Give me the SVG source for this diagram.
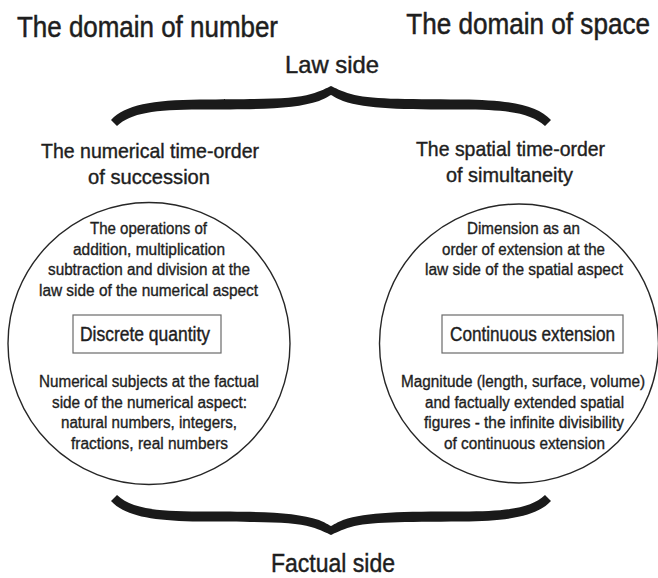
<svg xmlns="http://www.w3.org/2000/svg" xmlns:xlink="http://www.w3.org/1999/xlink" width="658" height="578" viewBox="0 0 658 578">
<style>
text{font-family:"Liberation Sans",Arial,sans-serif;fill:#1e1e1e;stroke:#1e1e1e;stroke-width:0.35;}
.title{font-size:29px;stroke-width:0.5;}
.side{font-size:24px;stroke-width:0.45;}
.fact{font-size:26px;stroke-width:0.45;}
.sub{font-size:21px;stroke-width:0.4;}
.body{font-size:16px;}
.key{font-size:19.5px;stroke-width:0.4;}
.circ{fill:none;stroke:#262626;stroke-width:1.4;}
.box{fill:#fff;stroke:#6a6a6a;stroke-width:1.2;}
.brace{fill:#1a1a1a;stroke:none;}
</style>
<defs>
<path id="brace" class="brace" d="M111,120 C125,105 152,100 200,99.5 C260,99 293,99.5 311,94 C321,91 327,88 331,86 C335,88 341,91 351,94 C369,99.5 402,99 462,99.5 C510,100 537,105 551,120 L545,126 C531,113 508,109.5 462,109.5 C402,109.5 367,109 343,101 C337,98.5 334,96.5 331,95 C328,96.5 325,98.5 319,101 C295,109 260,109.5 200,109.5 C154,109.5 131,113 117,126 Z"/>
</defs>
<rect width="658" height="578" fill="#fff"/>

<g id="labels">
<text class="title" x="17" y="37" textLength="261" lengthAdjust="spacingAndGlyphs">The domain of number</text>
<text class="title" transform="translate(650,33.5) scale(0.9,1)" x="0" y="0" text-anchor="end">The domain of space</text>
<text class="side" x="285" y="73" textLength="94" lengthAdjust="spacingAndGlyphs">Law side</text>
<text class="fact" x="271" y="572" textLength="124" lengthAdjust="spacingAndGlyphs">Factual side</text>
<text class="sub" x="41" y="158" textLength="218" lengthAdjust="spacingAndGlyphs">The numerical time-order</text>
<text class="sub" x="88" y="184" textLength="122" lengthAdjust="spacingAndGlyphs">of succession</text>
<text class="sub" x="416" y="156" textLength="189" lengthAdjust="spacingAndGlyphs">The spatial time-order</text>
<text class="sub" x="446" y="182" textLength="127" lengthAdjust="spacingAndGlyphs">of simultaneity</text>
</g>

<g id="connectors">
<use xlink:href="#brace" href="#brace"/>
<use xlink:href="#brace" href="#brace" transform="translate(0,621) scale(1,-1)"/>
</g>

<g id="node-number">
<circle class="circ" cx="149" cy="343.5" r="141"/>
<text class="body" x="90" y="234" textLength="117" lengthAdjust="spacingAndGlyphs">The operations of</text>
<text class="body" x="73" y="254.5" textLength="152" lengthAdjust="spacingAndGlyphs">addition, multiplication</text>
<text class="body" x="48" y="275" textLength="202" lengthAdjust="spacingAndGlyphs">subtraction and division at the</text>
<text class="body" x="39" y="295.5" textLength="219" lengthAdjust="spacingAndGlyphs">law side of the numerical aspect</text>
<g id="box-discrete">
<rect class="box" x="73" y="315" width="148" height="38"/>
<text class="key" x="80" y="340.7" textLength="130" lengthAdjust="spacingAndGlyphs">Discrete quantity</text>
</g>
<text class="body" x="39" y="387" textLength="220" lengthAdjust="spacingAndGlyphs">Numerical subjects at the factual</text>
<text class="body" x="52" y="407.7" textLength="195" lengthAdjust="spacingAndGlyphs">side of the numerical aspect:</text>
<text class="body" x="61" y="428.3" textLength="176" lengthAdjust="spacingAndGlyphs">natural numbers, integers,</text>
<text class="body" x="71" y="449" textLength="157" lengthAdjust="spacingAndGlyphs">fractions, real numbers</text>
</g>

<g id="node-space">
<circle class="circ" cx="519" cy="343.5" r="139.5"/>
<text class="body" x="467" y="234" textLength="113" lengthAdjust="spacingAndGlyphs">Dimension as an</text>
<text class="body" x="442" y="254.5" textLength="163" lengthAdjust="spacingAndGlyphs">order of extension at the</text>
<text class="body" x="425" y="275" textLength="198" lengthAdjust="spacingAndGlyphs">law side of the spatial aspect</text>
<g id="box-continuous">
<rect class="box" x="442" y="315" width="181" height="38"/>
<text class="key" x="450" y="340.7" textLength="165" lengthAdjust="spacingAndGlyphs">Continuous extension</text>
</g>
<text class="body" x="401" y="387" textLength="244" lengthAdjust="spacingAndGlyphs">Magnitude (length, surface, volume)</text>
<text class="body" x="425" y="407.7" textLength="199" lengthAdjust="spacingAndGlyphs">and factually extended spatial</text>
<text class="body" x="424" y="428.3" textLength="200" lengthAdjust="spacingAndGlyphs">figures - the infinite divisibility</text>
<text class="body" x="444" y="449" textLength="161" lengthAdjust="spacingAndGlyphs">of continuous extension</text>
</g>
</svg>
